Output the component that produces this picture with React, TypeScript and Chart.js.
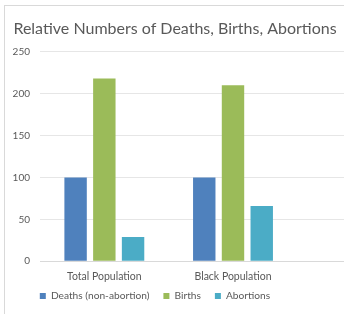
import { useEffect, useRef } from "react";
import { Chart, registerables } from "chart.js";

Chart.register(...registerables);

const titleText = "Relative Numbers of Deaths, Births, Abortions";
const categories = ["Total Population", "Black Population", ""];
const seriesNames = ["Deaths (non-abortion)", "Births", "Abortions"];
const deaths = [100, 100, null];
const births = [218, 210, null];
const abortions = [29, 66, null];
const yMin = 0;
const yMax = 250;
const yStep = 50;
const colors = ["#4f81bd", "#9bbb59", "#4bacc6"];

const FONT = "Lato, 'Liberation Sans', sans-serif";

const boxShift = {
  id: "boxShift",
  afterLayout(chart: any) {
    const t = chart.titleBlock;
    if (t) {
      t.left = 0;
      t.right = 340;
      t.width = 340;
    }
    const l = chart.legend;
    if (l) {
      l.left = 0;
      l.right = 300;
      l.width = 300;
      l.top -= 15;
      l.bottom -= 15;
    }
  },
};

export default function App() {
  const ref = useRef<HTMLCanvasElement>(null);
  useEffect(() => {
    if (!ref.current) return;
    const series = [deaths, births, abortions];
    const chart = new Chart(ref.current, {
      type: "bar",
      data: {
        labels: categories,
        datasets: series.map((d, i) => ({
          label: seriesNames[i],
          data: d,
          backgroundColor: colors[i],
          borderWidth: 0,
          barPercentage: 0.78,
          categoryPercentage: 0.67,
        })),
      },
      plugins: [boxShift],
      options: {
        responsive: false,
        animation: false,
        layout: { padding: 0 },
        plugins: {
          title: {
            display: true,
            text: titleText,
            color: "#595959",
            font: { family: FONT, size: 16, weight: "normal" },
            padding: { top: 13, bottom: 13.5 },
          },
          legend: {
            display: true,
            position: "bottom",
            labels: {
              color: "#595959",
              font: { family: FONT, size: 10.2 },
              boxWidth: 6,
              boxHeight: 6,
              padding: 14,
            },
          },
          tooltip: { enabled: false },
        },
        scales: {
          x: {
            grid: { display: false, drawTicks: false },
            border: { display: false },
            ticks: {
              color: "#595959",
              font: { family: FONT, size: 10.5 },
              padding: 9,
              maxRotation: 0,
            },
          },
          y: {
            min: yMin,
            max: yMax,
            afterFit: (s: any) => {
              s.width = 35;
            },
            grid: {
              drawTicks: false,
              color: (c: any) => (c.index === 0 ? "#d9d9d9" : "#e6e6e6"),
            },
            border: { display: false },
            ticks: {
              stepSize: yStep,
              color: "#595959",
              font: { family: FONT, size: 10 },
              padding: 10,
            },
          },
        },
      },
    });
    return () => chart.destroy();
  }, []);
  return (
    <div
      style={{
        position: "fixed",
        left: 0,
        top: 0,
        width: 344,
        height: 314,
        overflow: "hidden",
        background: "#fff",
      }}
    >
      <div
        style={{
          position: "absolute",
          left: 4,
          top: 5,
          width: 500,
          height: 400,
          borderLeft: "1px solid #d9d9d9",
          borderTop: "1px solid #d9d9d9",
        }}
      >
        <canvas ref={ref} width={421} height={320} style={{ display: "block" }} />
      </div>
    </div>
  );
}
